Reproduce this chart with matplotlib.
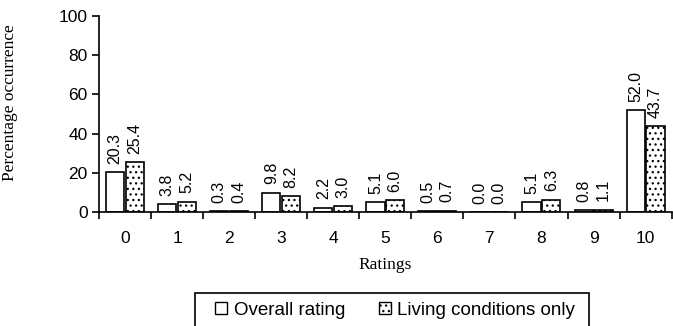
import numpy as np
import matplotlib.pyplot as plt
from matplotlib.patches import Patch, Rectangle

ratings = ['0', '1', '2', '3', '4', '5', '6', '7', '8', '9', '10']
overall = [20.3, 3.8, 0.3, 9.8, 2.2, 5.1, 0.5, 0.0, 5.1, 0.8, 52.0]
living = [25.4, 5.2, 0.4, 8.2, 3.0, 6.0, 0.7, 0.0, 6.3, 1.1, 43.7]

plt.rcParams['font.family'] = 'Liberation Sans'
plt.rcParams['hatch.linewidth'] = 0.9

fig = plt.figure(figsize=(6.73, 3.26), dpi=100)
ax = fig.add_axes([0.147, 0.350, 0.851, 0.601])

x = np.arange(len(ratings))
w = 0.35
b1 = ax.bar(x - 0.19, overall, w, color='white', edgecolor='black', linewidth=1.2)
b2 = ax.bar(x + 0.19, living, w, color='white', edgecolor='black', linewidth=1.2, hatch='...')

for rects, vals in [(b1, overall), (b2, living)]:
    for r, v in zip(rects, vals):
        ax.annotate(f'{v:.1f}', (r.get_x() + r.get_width() / 2, v), xytext=(0, 6),
                    textcoords='offset points', rotation=90,
                    ha='center', va='bottom', fontsize=11.5)

ax.set_xlim(-0.5, 10.5)
ax.set_ylim(0, 100)
ax.set_yticks([0, 20, 40, 60, 80, 100])
ax.set_xticks(x)
ax.set_xticklabels(ratings)
ax.set_xticks(np.arange(-0.5, 11, 1), minor=True)
ax.tick_params(axis='x', which='major', length=0, pad=14, labelsize=12.5)
ax.tick_params(axis='x', which='minor', length=5, width=1.2, direction='out')
ax.tick_params(axis='y', length=5, width=1.2, labelsize=12.5, pad=3)
ax.spines['top'].set_visible(False)
ax.spines['right'].set_visible(False)
ax.spines['left'].set_linewidth(1.2)
ax.spines['bottom'].set_linewidth(1.2)

ax.set_ylabel('Percentage occurrence', family='Liberation Serif', fontsize=12.5)
ax.yaxis.set_label_coords(-0.141, 0.56)
ax.set_xlabel('Ratings', family='Liberation Serif', fontsize=12.5, labelpad=8)

handles = [Patch(facecolor='white', edgecolor='black', label='Overall rating'),
           Patch(facecolor='white', edgecolor='black', hatch='...', label='Living conditions only')]
leg = fig.legend(handles=handles, loc='center', bbox_to_anchor=(0.587, 0.049), ncol=2,
                 fontsize=13.5, frameon=False, handlelength=0.65,
                 handleheight=0.65, handletextpad=0.35, columnspacing=1.8, borderpad=0,
                 borderaxespad=0)
# legend frame runs past the bottom edge, as in the original
fig.patches.append(Rectangle((0.2897, -0.1), 0.5855, 0.2012, transform=fig.transFigure,
                             fill=False, edgecolor='black', linewidth=1.2))

fig.savefig('out.png', dpi=100)
